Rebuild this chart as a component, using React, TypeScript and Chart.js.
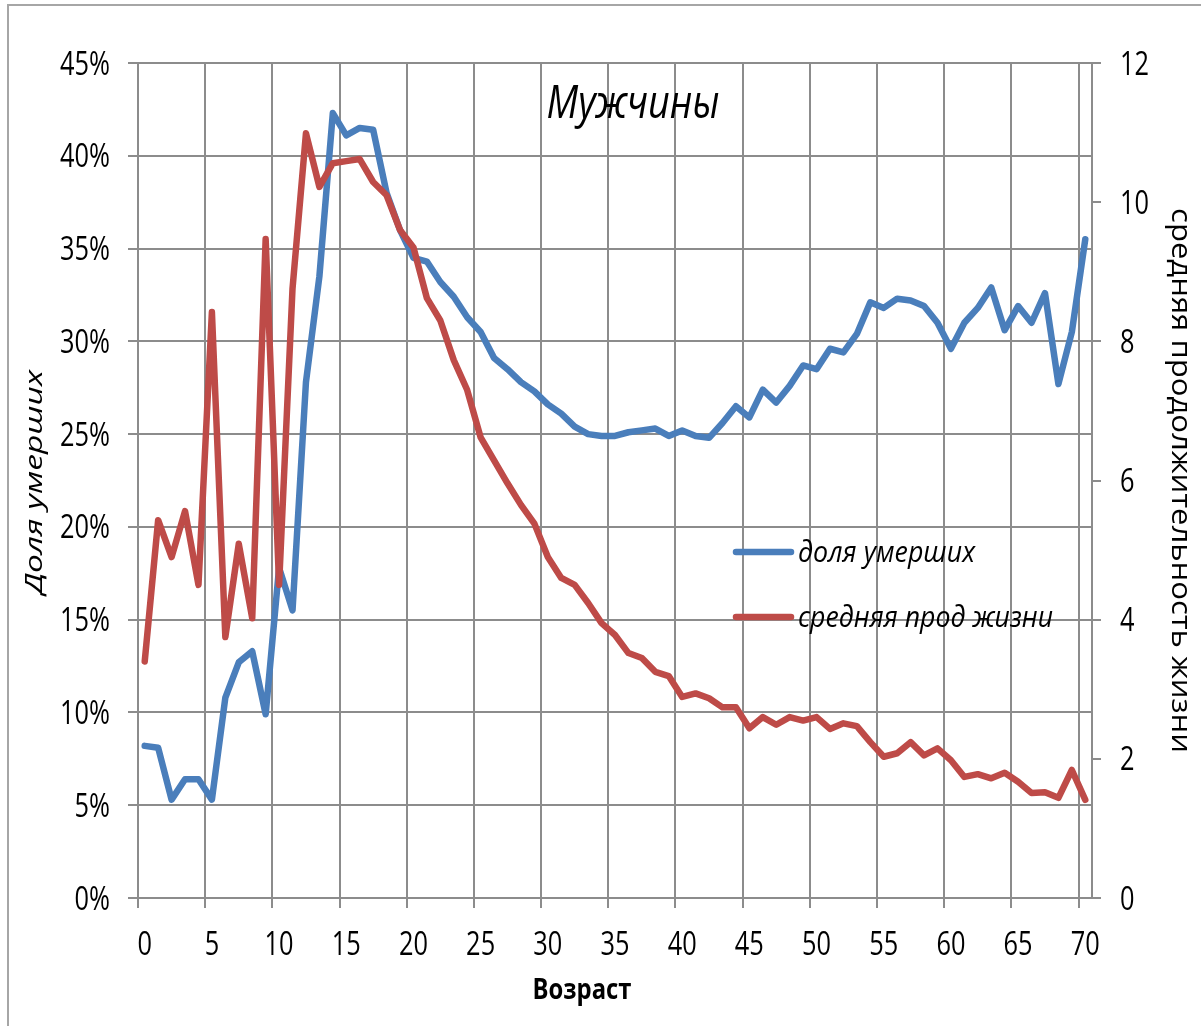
import { useEffect, useRef } from 'react';
import { Chart, registerables } from 'chart.js';

Chart.register(...registerables);

// Age categories, 0..70 years
const AGES = [
  '0', '1', '2', '3', '4', '5', '6', '7', '8', '9',
  '10', '11', '12', '13', '14', '15', '16', '17', '18', '19',
  '20', '21', '22', '23', '24', '25', '26', '27', '28', '29',
  '30', '31', '32', '33', '34', '35', '36', '37', '38', '39',
  '40', '41', '42', '43', '44', '45', '46', '47', '48', '49',
  '50', '51', '52', '53', '54', '55', '56', '57', '58', '59',
  '60', '61', '62', '63', '64', '65', '66', '67', '68', '69',
  '70',
];

// Share of deceased, % (left axis)
const SHARE_DEAD = [
  8.2, 8.1, 5.3, 6.4, 6.4, 5.3, 10.8, 12.7, 13.3, 9.9,
  17.8, 15.5, 27.8, 33.5, 42.3, 41.1, 41.5, 41.4, 38.0, 36.0,
  34.5, 34.3, 33.2, 32.4, 31.3, 30.5, 29.1, 28.5, 27.8, 27.3,
  26.6, 26.1, 25.4, 25.0, 24.9, 24.9, 25.1, 25.2, 25.3, 24.9,
  25.2, 24.9, 24.8, 25.6, 26.5, 25.9, 27.4, 26.7, 27.6, 28.7,
  28.5, 29.6, 29.4, 30.4, 32.1, 31.8, 32.3, 32.2, 31.9, 31.0,
  29.6, 31.0, 31.8, 32.9, 30.6, 31.9, 31.0, 32.6, 27.7, 30.5,
  35.5,
];

// Mean remaining life length (right axis)
const LIFE_LEFT = [
  3.4, 5.43, 4.9, 5.56, 4.5, 8.42, 3.75, 5.09, 4.02, 9.47,
  4.5, 8.76, 10.99, 10.22, 10.56, 10.59, 10.62, 10.29, 10.1, 9.6,
  9.35, 8.62, 8.3, 7.73, 7.3, 6.62, 6.29, 5.96, 5.65, 5.38,
  4.9, 4.6, 4.5, 4.24, 3.95, 3.78, 3.52, 3.45, 3.25, 3.19,
  2.89, 2.94, 2.87, 2.74, 2.74, 2.44, 2.6, 2.49, 2.6, 2.55,
  2.6, 2.43, 2.51, 2.47, 2.24, 2.03, 2.08, 2.24, 2.05, 2.15,
  1.98, 1.74, 1.78, 1.72, 1.8, 1.67, 1.51, 1.52, 1.44, 1.84,
  1.41,
];

const X_LABEL_STEP = 5;

const TITLE = 'Мужчины';
const SERIES_SHARE = 'доля умерших';
const SERIES_LIFE = 'средняя прод жизни';
const LEFT_TITLE = 'Доля умерших';
const RIGHT_TITLE = 'средняя продолжительность жизни';
const X_TITLE = 'Возраст';

const BLUE = '#4a7ebb';
const RED = '#be4b48';
const GRID = '#8c8c8c';
const TEXT = '#000000';
const FONT = "'Open Sans', sans-serif";
const TICK_FONT = `33px ${FONT}`;

const W = 1201;
const H = 1026;

// Text squeezed/stretched along its reading direction to a given length
function fitText(
  ctx: CanvasRenderingContext2D,
  text: string,
  font: string,
  x: number,
  y: number,
  length: number,
  angle = 0,
  align: CanvasTextAlign = 'center',
) {
  ctx.save();
  ctx.font = font;
  const w = ctx.measureText(text).width;
  ctx.translate(x, y);
  ctx.rotate(angle);
  ctx.scale(length / w, 1);
  ctx.textAlign = align;
  ctx.textBaseline = 'alphabetic';
  ctx.fillStyle = TEXT;
  ctx.fillText(text, 0, 0);
  ctx.restore();
}

// Text drawn with a fixed horizontal squeeze factor
function narrowText(
  ctx: CanvasRenderingContext2D,
  text: string,
  x: number,
  y: number,
  sx: number,
  align: CanvasTextAlign,
) {
  ctx.save();
  ctx.translate(x, y);
  ctx.scale(sx, 1);
  ctx.font = TICK_FONT;
  ctx.textAlign = align;
  ctx.textBaseline = 'alphabetic';
  ctx.fillStyle = TEXT;
  ctx.fillText(text, 0, 0);
  ctx.restore();
}

const frame = {
  id: 'frame',
  beforeDraw(chart: any) {
    const ctx = chart.ctx as CanvasRenderingContext2D;
    ctx.save();
    ctx.fillStyle = '#ffffff';
    ctx.fillRect(0, 0, W, H);
    ctx.strokeStyle = '#a6a6a6';
    ctx.lineWidth = 2;
    ctx.strokeRect(8, 5, W + 20, H + 20);
    ctx.restore();
  },
};

const annotations = {
  id: 'annotations',
  afterDraw(chart: any) {
    const ctx = chart.ctx as CanvasRenderingContext2D;
    const area = chart.chartArea;

    // tick labels, condensed
    ctx.save();
    ctx.font = TICK_FONT;
    const sx = 50 / ctx.measureText('45%').width;
    ctx.restore();

    const ys = chart.scales.y;
    for (const t of ys.ticks) {
      narrowText(ctx, `${t.value}%`, 110, ys.getPixelForValue(t.value) + 11.5, sx, 'right');
    }
    const y1 = chart.scales.y1;
    for (const t of y1.ticks) {
      narrowText(ctx, `${t.value}`, 1120, y1.getPixelForValue(t.value) + 11.5, sx, 'left');
    }
    const xs = chart.scales.x;
    AGES.forEach((age, i) => {
      if (i % X_LABEL_STEP === 0) {
        narrowText(ctx, age, xs.getPixelForValue(i), 955, sx, 'center');
      }
    });

    // chart title inside the plot
    fitText(ctx, TITLE, `italic 46px ${FONT}`, 633, 118, 173);

    // legend inside the plot
    const legend = [
      { color: BLUE, label: SERIES_SHARE, y: 552, len: 177 },
      { color: RED, label: SERIES_LIFE, y: 617, len: 255 },
    ];
    ctx.save();
    ctx.lineCap = 'round';
    ctx.lineWidth = 6.5;
    for (const item of legend) {
      ctx.strokeStyle = item.color;
      ctx.beginPath();
      ctx.moveTo(736, item.y);
      ctx.lineTo(791, item.y);
      ctx.stroke();
    }
    ctx.restore();
    for (const item of legend) {
      fitText(ctx, item.label, `italic 30px ${FONT}`, 798, item.y + 10, item.len, 0, 'left');
    }

    // axis titles
    const midY = (area.top + area.bottom) / 2;
    fitText(ctx, LEFT_TITLE, `italic 23px ${FONT}`, 42, 482, 224, -Math.PI / 2);
    fitText(ctx, RIGHT_TITLE, `28px ${FONT}`, 1172, midY, 545, Math.PI / 2);
    fitText(ctx, X_TITLE, `bold 28px ${FONT}`, 582, 999, 99);
  },
};

const gridEvery5 = (c: any) =>
  typeof c.index === 'number' && c.index % X_LABEL_STEP === 0 ? GRID : 'rgba(0,0,0,0)';

export default function App() {
  const ref = useRef<HTMLCanvasElement | null>(null);

  useEffect(() => {
    if (!ref.current) return;
    const chart = new Chart(ref.current, {
      type: 'line',
      data: {
        labels: AGES,
        datasets: [
          {
            label: SERIES_SHARE,
            data: SHARE_DEAD,
            yAxisID: 'y',
            borderColor: BLUE,
            backgroundColor: BLUE,
            borderWidth: 6.5,
            pointRadius: 0,
            tension: 0,
            borderJoinStyle: 'round',
            borderCapStyle: 'round',
            order: 1,
          },
          {
            label: SERIES_LIFE,
            data: LIFE_LEFT,
            yAxisID: 'y1',
            borderColor: RED,
            backgroundColor: RED,
            borderWidth: 6.5,
            pointRadius: 0,
            tension: 0,
            borderJoinStyle: 'round',
            borderCapStyle: 'round',
            order: 0,
          },
        ],
      },
      options: {
        responsive: false,
        animation: false,
        devicePixelRatio: 1,
        layout: { padding: { top: 63, left: 0, right: 0, bottom: 0 } },
        plugins: {
          legend: { display: false },
          tooltip: { enabled: false },
          title: { display: false },
        },
        scales: {
          x: {
            type: 'category',
            offset: true,
            grid: {
              offset: true,
              color: gridEvery5,
              tickColor: gridEvery5,
              lineWidth: 2,
              tickLength: 10,
              drawTicks: true,
            },
            border: { display: true, color: GRID, width: 2 },
            ticks: { display: false, autoSkip: false, maxRotation: 0, minRotation: 0 },
            afterFit: (s: any) => {
              s.height = H - 898;
            },
          },
          y: {
            position: 'left',
            min: 0,
            max: 45,
            grid: { color: GRID, lineWidth: 2, tickLength: 10, tickColor: GRID },
            border: { display: true, color: GRID, width: 2 },
            ticks: { display: false, stepSize: 5 },
            afterFit: (s: any) => {
              s.width = 138;
            },
          },
          y1: {
            position: 'right',
            min: 0,
            max: 12,
            grid: { drawOnChartArea: false, color: GRID, lineWidth: 2, tickLength: 9, tickColor: GRID },
            border: { display: true, color: GRID, width: 2 },
            ticks: { display: false, stepSize: 2 },
            afterFit: (s: any) => {
              s.width = W - 1092;
            },
          },
        },
      },
      plugins: [frame, annotations],
    });
    return () => chart.destroy();
  }, []);

  return (
    <div style={{ position: 'fixed', left: 0, top: 0, width: W, height: H, background: '#fff' }}>
      <canvas ref={ref} width={W} height={H} style={{ width: W, height: H, display: 'block' }} />
    </div>
  );
}
